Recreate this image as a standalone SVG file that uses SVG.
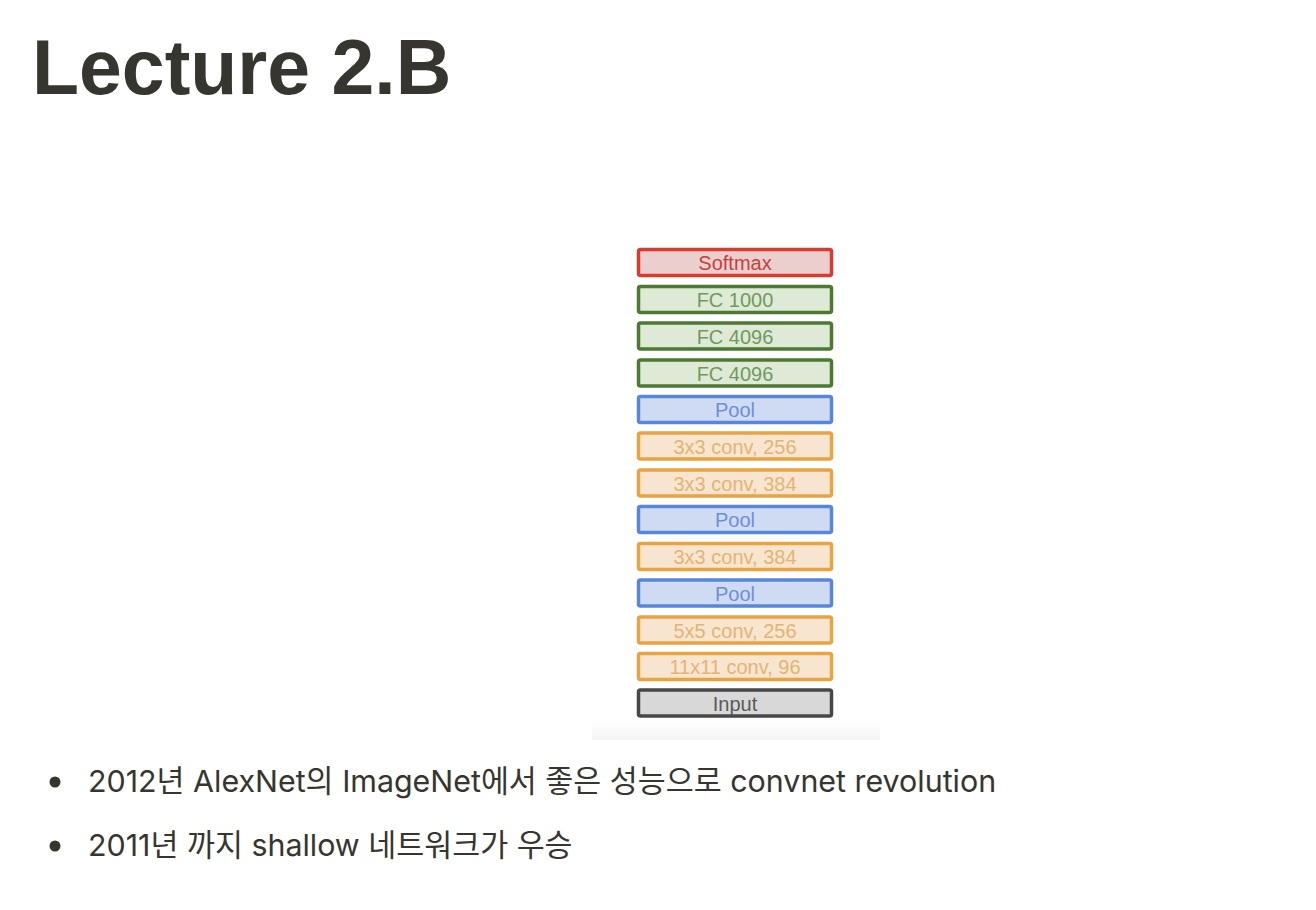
<svg xmlns="http://www.w3.org/2000/svg" width="1316" height="910" viewBox="0 0 1316 910">
<defs>
<linearGradient id="shade" x1="0" y1="0" x2="0" y2="1">
<stop offset="0" stop-color="#ffffff"/>
<stop offset="1" stop-color="#f5f5f5"/>
</linearGradient>
<style>
.box{stroke-width:3.5}
.lbl{font-family:"Liberation Sans",Arial,sans-serif;font-size:20px;text-anchor:middle}
.soft rect{fill:#ebcfcf;stroke:#d83b30}
.soft text{fill:#c8403d}
.fc rect{fill:#deead6;stroke:#4c7a32}
.fc text{fill:#6e9a5e}
.pool rect{fill:#cedbf3;stroke:#5a86da}
.pool text{fill:#6c8fdb}
.conv rect{fill:#f7e5d0;stroke:#e8a342}
.conv text{fill:#e4b473}
.inp rect{fill:#d8d8d8;stroke:#474747}
.inp text{fill:#5a5a5a}
.body{font-family:"Inter","Noto Sans CJK KR",sans-serif;font-size:30.4px;fill:#37352f}
</style>
</defs>
<rect width="1316" height="910" fill="#ffffff"/>
<text id="title" x="32" y="94" font-family="'Liberation Sans',Arial,sans-serif" font-weight="bold" font-size="77" fill="#37352f">Lecture 2.B</text>
<rect x="592" y="718" width="288" height="22" fill="url(#shade)"/>
<g id="connectors"></g>
<g id="softmax" class="soft"><rect class="box" x="638.5" y="249.5" width="193" height="26" rx="2"/><text class="lbl" x="735" y="270">Softmax</text></g>
<g id="fc1000" class="fc"><rect class="box" x="638.5" y="286.5" width="193" height="26" rx="2"/><text class="lbl" x="735" y="307">FC 1000</text></g>
<g id="fc4096a" class="fc"><rect class="box" x="638.5" y="323" width="193" height="26" rx="2"/><text class="lbl" x="735" y="343.5">FC 4096</text></g>
<g id="fc4096b" class="fc"><rect class="box" x="638.5" y="360" width="193" height="26" rx="2"/><text class="lbl" x="735" y="380.5">FC 4096</text></g>
<g id="pool3" class="pool"><rect class="box" x="638.5" y="396.5" width="193" height="26" rx="2"/><text class="lbl" x="735" y="417">Pool</text></g>
<g id="conv5" class="conv"><rect class="box" x="638.5" y="433" width="193" height="26" rx="2"/><text class="lbl" x="735" y="453.5">3x3 conv, 256</text></g>
<g id="conv4" class="conv"><rect class="box" x="638.5" y="470" width="193" height="26" rx="2"/><text class="lbl" x="735" y="490.5">3x3 conv, 384</text></g>
<g id="pool2" class="pool"><rect class="box" x="638.5" y="506.5" width="193" height="26" rx="2"/><text class="lbl" x="735" y="527">Pool</text></g>
<g id="conv3" class="conv"><rect class="box" x="638.5" y="543.5" width="193" height="26" rx="2"/><text class="lbl" x="735" y="564">3x3 conv, 384</text></g>
<g id="pool1" class="pool"><rect class="box" x="638.5" y="580" width="193" height="26" rx="2"/><text class="lbl" x="735" y="600.5">Pool</text></g>
<g id="conv2" class="conv"><rect class="box" x="638.5" y="617" width="193" height="26" rx="2"/><text class="lbl" x="735" y="637.5">5x5 conv, 256</text></g>
<g id="conv1" class="conv"><rect class="box" x="638.5" y="653.5" width="193" height="26" rx="2"/><text class="lbl" x="735" y="674">11x11 conv, 96</text></g>
<g id="input" class="inp"><rect class="box" x="638.5" y="690" width="193" height="26" rx="2"/><text class="lbl" x="735" y="710.5">Input</text></g>
<g id="bullets">
<circle cx="55" cy="782" r="5.5" fill="#37352f"/>
<text class="body" x="88" y="792">2012년 AlexNet의 ImageNet에서 좋은 성능으로 convnet revolution</text>
<circle cx="55" cy="846" r="5.5" fill="#37352f"/>
<text class="body" x="88" y="856">2011년 까지 shallow 네트워크가 우승</text>
</g>
</svg>
